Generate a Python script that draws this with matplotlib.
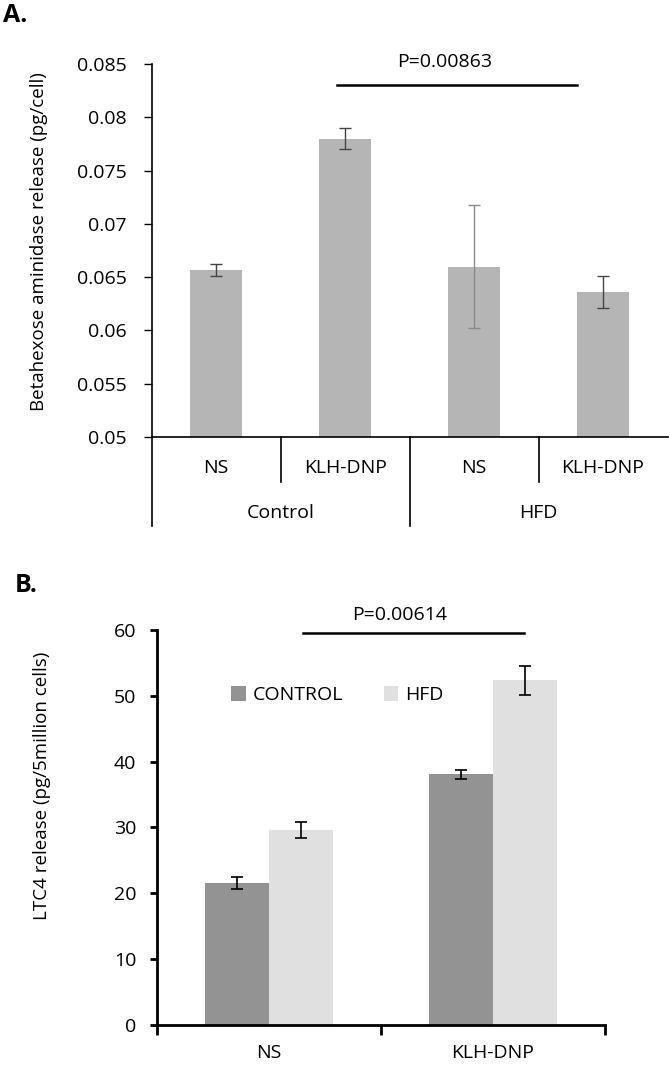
"""Two-panel bar figure: beta-hexosaminidase release and LTC4 release."""

import matplotlib
matplotlib.use("Agg")
import matplotlib.pyplot as plt
from matplotlib.patches import Patch
import numpy as np

plt.rcParams["font.family"] = ["Open Sans", "DejaVu Sans"]

# panel A data
a_sub = ["NS", "KLH-DNP", "NS", "KLH-DNP"]
a_groups = ["Control", "HFD"]
a_vals = [0.0657, 0.0780, 0.0660, 0.0636]
a_err = [0.00055, 0.0010, 0.0058, 0.0015]
a_err_colors = ["#444444", "#444444", "#8a8a8a", "#444444"]
a_yticks = [0.05, 0.055, 0.06, 0.065, 0.07, 0.075, 0.08, 0.085]
a_ytick_labels = ["0.05", "0.055", "0.06", "0.065", "0.07", "0.075", "0.08", "0.085"]
a_pval = "P=0.00863"

# panel B data
b_cats = ["NS", "KLH-DNP"]
b_series = ["CONTROL", "HFD"]
b_control = [21.6, 38.1]
b_control_err = [0.9, 0.7]
b_hfd = [29.6, 52.4]
b_hfd_err = [1.2, 2.2]
b_yticks = [0, 10, 20, 30, 40, 50, 60]
b_pval = "P=0.00614"

FS = 14

fig = plt.figure(figsize=(6.69, 10.66), dpi=100)

# ---------------- Panel A ----------------
axA = fig.add_axes([0.2268, 0.590, 0.7710, 0.350])
x = np.arange(len(a_vals))
axA.bar(x, a_vals, width=0.40, color="#b5b5b5", zorder=2)
for xi, v, e, c in zip(x, a_vals, a_err, a_err_colors):
    axA.errorbar(xi, v, yerr=e, fmt="none", ecolor=c, elinewidth=1.0,
                 capsize=4, capthick=1.0, zorder=3)
axA.set_xlim(-0.5, 3.5)
axA.set_ylim(0.05, 0.085)
axA.set_yticks(a_yticks)
axA.set_yticklabels(a_ytick_labels, fontsize=FS)
axA.tick_params(axis="y", direction="out", length=6, width=1.0, pad=12)
axA.set_xticks([])
for s in ["top", "right"]:
    axA.spines[s].set_visible(False)
axA.spines["left"].set_linewidth(1.2)
axA.spines["bottom"].set_linewidth(1.2)
axA.set_ylabel("Betahexose aminidase release (pg/cell)", fontsize=13.5)
axA.yaxis.set_label_coords(-0.201, 0.523)

# category table under the axis
tr = axA.get_xaxis_transform()
axA.plot([-0.5, -0.5], [0, -0.239], transform=tr, color="black", lw=1.2, clip_on=False)
axA.plot([1.5, 1.5], [0, -0.239], transform=tr, color="black", lw=1.2, clip_on=False)
for xd in [0.5, 2.5]:
    axA.plot([xd, xd], [0, -0.121], transform=tr, color="black", lw=1.2, clip_on=False)
for xi, lab in zip(x, a_sub):
    axA.text(xi, -0.083, lab, transform=tr, ha="center", va="center", fontsize=FS)
for gi, lab in enumerate(a_groups):
    axA.text(2 * gi + 0.5, -0.204, lab, transform=tr, ha="center", va="center", fontsize=FS)

# significance bar
axA.plot([0.936, 2.797], [0.083, 0.083], color="black", lw=1.8, clip_on=False)
axA.text(1.77, 0.0852, a_pval, ha="center", va="center", fontsize=FS)

fig.text(0.005, 0.985, "A.", fontsize=18, fontweight="bold", ha="left", va="center")

# ---------------- Panel B ----------------
axB = fig.add_axes([0.2347, 0.0385, 0.6696, 0.3705])
xb = np.arange(len(b_cats))
w = 0.285
axB.bar(xb - w / 2, b_control, width=w, color="#939393", zorder=2)
axB.bar(xb + w / 2, b_hfd, width=w, color="#e0e0e0", zorder=2)
axB.errorbar(xb - w / 2, b_control, yerr=b_control_err, fmt="none", ecolor="black",
             elinewidth=1.2, capsize=4, capthick=1.2, zorder=3)
axB.errorbar(xb + w / 2, b_hfd, yerr=b_hfd_err, fmt="none", ecolor="black",
             elinewidth=1.2, capsize=4, capthick=1.2, zorder=3)
axB.set_xlim(-0.5, 1.5)
axB.set_ylim(0, 60)
axB.set_yticks(b_yticks)
axB.tick_params(axis="y", labelsize=FS, direction="out", length=5, width=2.0, pad=10)
axB.set_xticks([-0.5, 0.5, 1.5])
axB.set_xticklabels([])
axB.set_xticks(xb, minor=True)
axB.set_xticklabels(b_cats, minor=True, fontsize=FS)
axB.tick_params(axis="x", which="major", direction="out", length=7, width=2.0)
axB.tick_params(axis="x", which="minor", length=0, pad=14)
for s in ["top", "right"]:
    axB.spines[s].set_visible(False)
axB.spines["left"].set_linewidth(2.0)
axB.spines["bottom"].set_linewidth(2.0)
axB.set_ylabel("LTC4 release (pg/5million cells)", fontsize=13.5)
axB.yaxis.set_label_coords(-0.237, 0.605)

handles = [Patch(facecolor="#939393", label=b_series[0]),
           Patch(facecolor="#e0e0e0", label=b_series[1])]
axB.legend(handles=handles, loc="center left", bbox_to_anchor=(0.165, 0.835),
           ncol=2, frameon=False, fontsize=FS, handlelength=0.75, handleheight=0.75,
           handletextpad=0.35, columnspacing=2.1, borderpad=0, borderaxespad=0)

axB.plot([0.152, 1.138], [59.5, 59.5], color="black", lw=1.8, clip_on=False)
axB.text(0.585, 62.3, b_pval, ha="center", va="center", fontsize=FS)

fig.text(0.022, 0.451, "B.", fontsize=18, fontweight="bold", ha="left", va="center")

fig.savefig("out.png", dpi=100)
